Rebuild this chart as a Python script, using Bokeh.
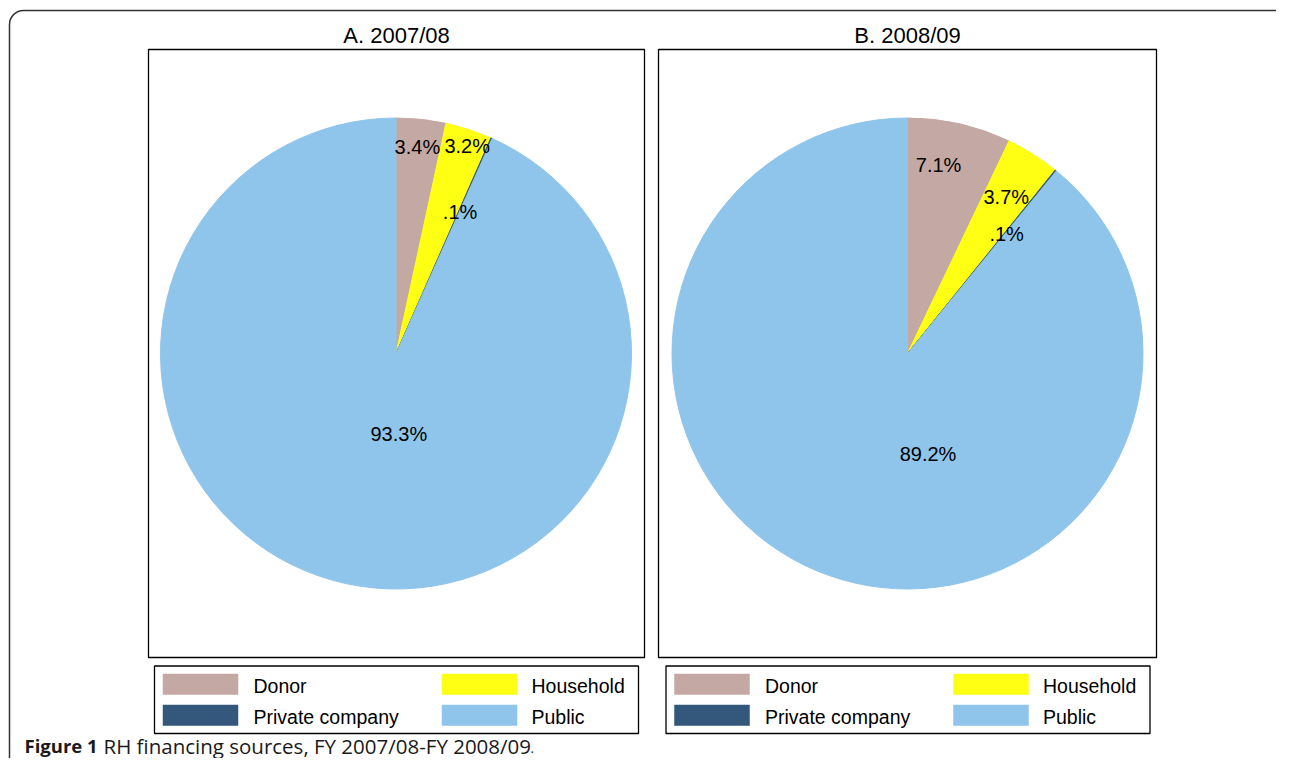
import math
from bokeh.plotting import figure
from bokeh.models import Range1d, BoxAnnotation
from bokeh.core.properties import value
from bokeh.embed import file_html
from bokeh.resources import INLINE

# ---------------- data ----------------
categories = ["Donor", "Household", "Private company", "Public"]
panel_titles = ["A. 2007/08", "B. 2008/09"]
shares_0708 = [3.4, 3.2, 0.1, 93.3]
shares_0809 = [7.1, 3.7, 0.1, 89.2]
caption_bold = "Figure 1"
caption_text = "RH financing sources, FY 2007/08-FY 2008/09"

# ---------------- style ----------------
colors = ["#c4a8a3", "#ffff14", "#33587b", "#8fc5ea"]
FONT = value("Liberation Sans")
CAP_FONT = value("Open Sans")
# label placement (fraction of radius, angular nudge in degrees clockwise)
label_frac = [[0.88, 0.933, 0.66, 0.34], [0.81, 0.785, 0.66, 0.434]]
label_nudge = [[-0.2, 0.9, 0.4, -14.1], [-3.4, 0.1, 0.6, -31.2]]

W, H = 1276, 758


def Y(py):
    """picture pixel row -> data y"""
    return H - py


p = figure(width=W, height=H, output_backend="svg", toolbar_location=None,
           x_range=Range1d(0, W), y_range=Range1d(0, H),
           x_axis_type=None, y_axis_type=None, min_border=0,
           outline_line_color=None, background_fill_color="white",
           border_fill_color="white")
p.grid.visible = False

# outer rounded frame
p.add_layout(BoxAnnotation(left=9, right=1291, top=Y(10), bottom=Y(800),
                           border_radius=14, fill_alpha=0,
                           line_color="#333333", line_alpha=1.0,
                           line_width=1.5))

panels = [
    dict(shares=shares_0708, title=panel_titles[0], frame=(148, 644), cx=395.5,
         leg_left=154.0),
    dict(shares=shares_0809, title=panel_titles[1], frame=(658, 1156), cx=907.0,
         leg_left=665.5),
]
CY_PAGE = 353.0
R = 235.5

for k, pan in enumerate(panels):
    shares = pan["shares"]
    total = sum(shares)
    fl, fr = pan["frame"]
    # plot frame
    p.quad(left=[fl], right=[fr], top=[Y(49)], bottom=[Y(657)],
           fill_alpha=0, line_color="black", line_width=1.3)
    # title
    p.text(x=[(fl + fr) / 2], y=[Y(34.5)], text=[pan["title"]],
           text_font=FONT, text_font_size="22px", text_align="center",
           text_baseline="middle", text_color="black")
    # wedges (clockwise from 12 o'clock)
    cum = 0.0
    starts, ends, mids = [], [], []
    for v in shares:
        a0 = cum / total * 360.0
        cum += v
        a1 = cum / total * 360.0
        starts.append(math.radians(90 - a1))
        ends.append(math.radians(90 - a0))
        mids.append((a0 + a1) / 2)
    cx, cy = pan["cx"], Y(CY_PAGE)
    p.wedge(x=[cx] * 4, y=[cy] * 4, radius=R, start_angle=starts,
            end_angle=ends, direction="anticlock", fill_color=colors,
            line_color=colors, line_width=1)
    # labels
    lx, ly, lt = [], [], []
    for i, v in enumerate(shares):
        ang = math.radians(90 - (mids[i] + label_nudge[k][i]))
        r = label_frac[k][i] * R
        lx.append(cx + r * math.cos(ang))
        ly.append(cy + r * math.sin(ang))
        s = f"{v:.1f}%"
        if s.startswith("0."):
            s = s[1:]
        lt.append(s)
    p.text(x=lx, y=ly, text=lt, text_font=FONT, text_font_size="20px",
           text_align="center", text_baseline="middle", text_color="black")
    # legend
    L = pan["leg_left"]
    p.quad(left=[L], right=[L + 484], top=[Y(665.5)], bottom=[Y(733)],
           fill_alpha=0, line_color="black", line_width=1.3)
    sl, sr, st, sb, tx, ty = [], [], [], [], [], []
    for i, cat in enumerate(categories):
        col, row = i % 2, i // 2
        x0 = L + 8.5 + col * 279
        y0 = 673.5 + row * 31
        sl.append(x0)
        sr.append(x0 + 75)
        st.append(Y(y0))
        sb.append(Y(y0 + 20.5))
        tx.append(L + 99 + col * 278)
        ty.append(Y(685 + row * 31))
    p.quad(left=sl, right=sr, top=st, bottom=sb, fill_color=colors,
           line_color=colors, line_width=0.5)
    p.text(x=tx, y=ty, text=categories, text_font=FONT,
           text_font_size="19.5px", text_align="left",
           text_baseline="middle", text_color="black")

# caption (raised slightly so it fits inside the canvas)
CAP_Y = Y(745)
p.text(x=[24], y=[CAP_Y], text=[caption_bold], text_font=CAP_FONT,
       text_font_size="18.5px", text_font_style="bold", text_align="left",
       text_baseline="middle", text_color="#1a1a1a")
p.text(x=[103], y=[CAP_Y], text=[caption_text], text_font=CAP_FONT,
       text_font_size="20.5px", text_align="left", text_baseline="middle",
       text_color="#1a1a1a")
p.text(x=[530], y=[CAP_Y - 3], text=["."], text_font=CAP_FONT,
       text_font_size="13px", text_align="left", text_baseline="middle",
       text_color="#1a1a1a")

open("out.html", "w").write(file_html(p, INLINE))
